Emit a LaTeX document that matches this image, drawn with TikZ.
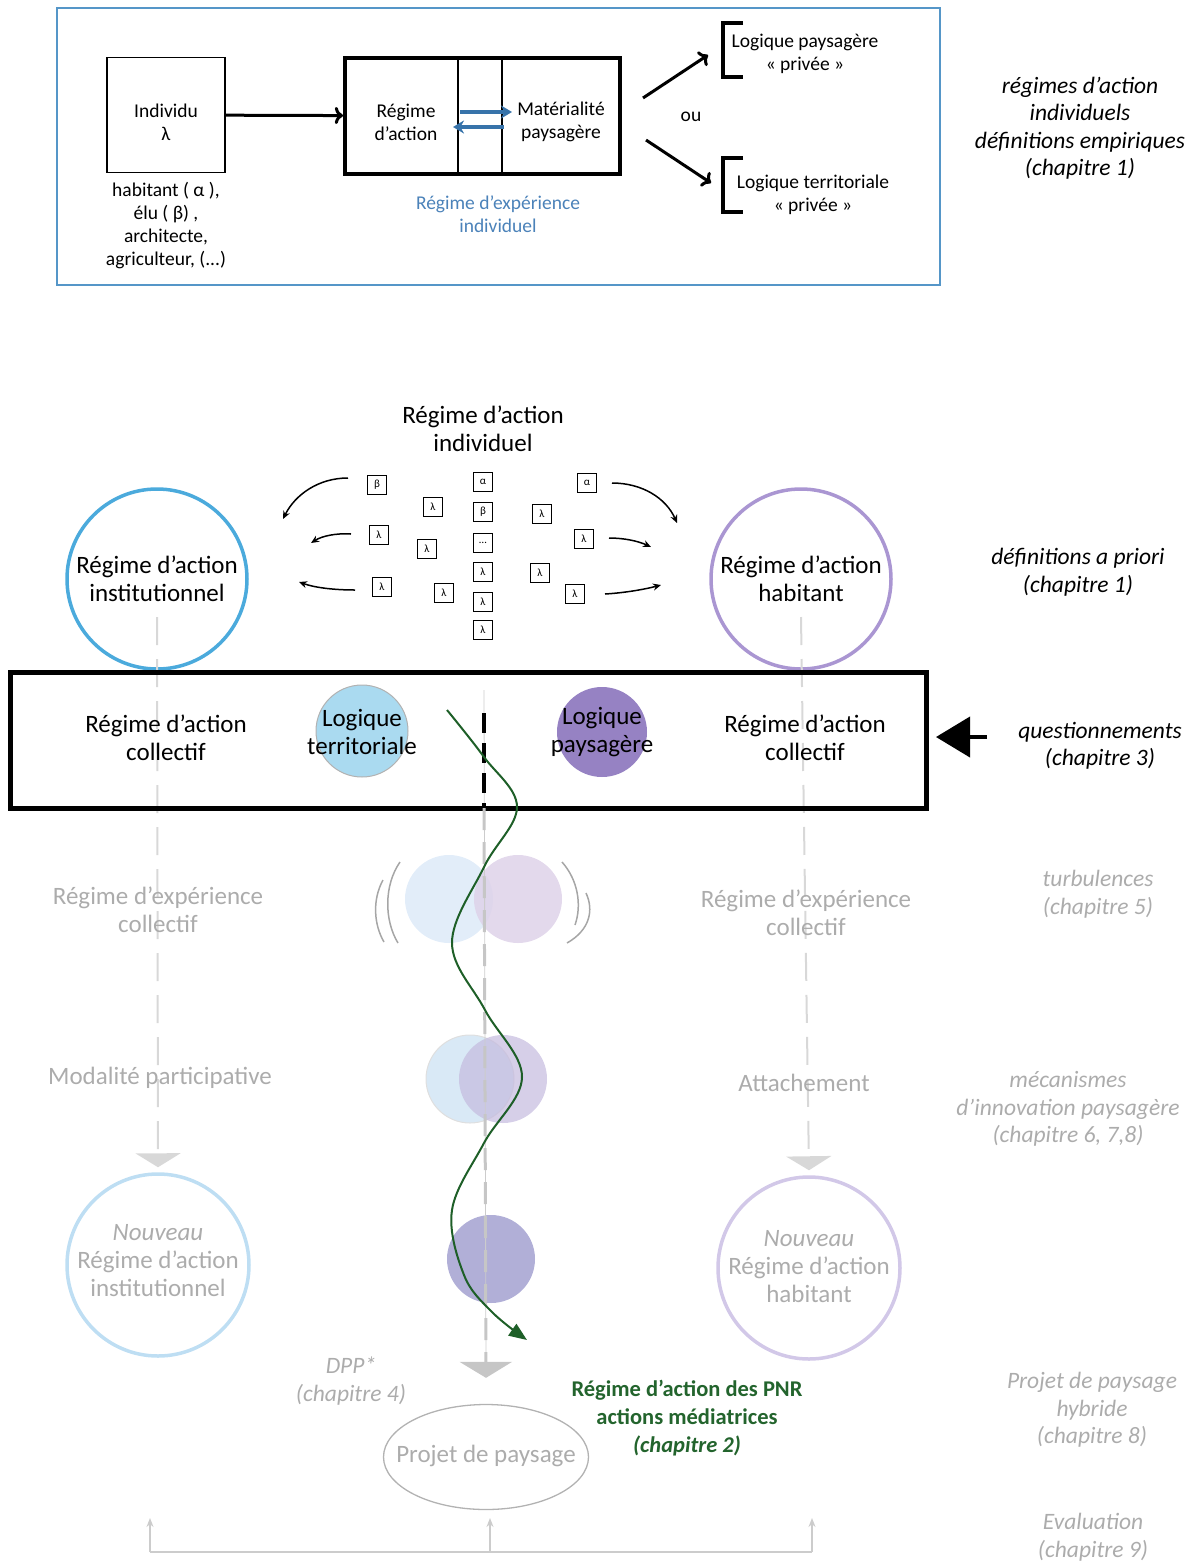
\documentclass[tikz,border=0pt]{standalone}
\usepackage{fontspec}
\setmainfont{Carlito}
\usetikzlibrary{positioning, shapes, calc, arrows, arrows.meta}

\definecolor{frameBlue}{RGB}{85,150,200}
\definecolor{expBlue}{RGB}{75,130,185}
\definecolor{arrowBlue}{RGB}{55,115,170}
\definecolor{instBlue}{RGB}{75,170,220}
\definecolor{habPurple}{RGB}{170,150,210}
\definecolor{terrFill}{RGB}{170,218,240}
\definecolor{paysFill}{RGB}{150,130,195}
\definecolor{turbBlue}{RGB}{226,237,249}
\definecolor{turbPurple}{RGB}{222,210,233}
\definecolor{modBlue}{RGB}{217,233,246}
\definecolor{modPurple}{RGB}{196,186,222}
\definecolor{lastBlob}{RGB}{177,175,215}
\definecolor{newBlue}{RGB}{190,222,243}
\definecolor{newPurple}{RGB}{210,200,232}
\definecolor{fadedText}{RGB}{172,172,172}
\definecolor{fadedLine}{RGB}{216,216,216}
\definecolor{curveGreen}{RGB}{30,95,40}
\definecolor{pnrGreen}{RGB}{35,100,45}

\tikzstyle{bigLabel}=[align=center, font=\fontsize{25}{28}\selectfont]
\tikzstyle{smallLabel}=[align=center, font=\fontsize{19.5}{23}\selectfont]
\tikzstyle{sideLabel}=[align=center, font=\fontsize{23.5}{27.5}\selectfont\itshape]
\tikzstyle{fadedLabel}=[bigLabel, text=fadedText]
\tikzstyle{fadedSide}=[sideLabel, text=fadedText]
\tikzstyle{lambdaBox}=[draw, line width=1.4pt, minimum size=19pt, inner sep=0pt, font=\fontsize{11}{11}\selectfont]
\tikzstyle{topArrow}=[->, line width=3pt]
\tikzstyle{blueArrow}=[-{Stealth[length=11pt,width=13pt]}, line width=4pt, arrowBlue]
\tikzstyle{swirl}=[-{Stealth[length=8pt,width=7pt]}, line width=1.5pt]
\tikzstyle{bracket}=[line width=3.5pt]
\tikzstyle{bigCircle}=[circle, line width=3.5pt, minimum size=180pt, inner sep=0pt]
\tikzstyle{blob}=[circle, minimum size=88pt, inner sep=0pt]
\tikzstyle{paren}=[line width=1.5pt, color=gray!70]
\tikzstyle{fadedFlow}=[fadedLine, line width=2pt, dash pattern=on 28pt off 14pt, -{Triangle[length=14pt,width=45pt]}]
\tikzstyle{centerFlow}=[color=gray!45, line width=3pt, dash pattern=on 22pt off 12pt, -{Triangle[length=16pt,width=52pt]}]
\tikzstyle{pnrCurve}=[curveGreen, line width=2pt, -{Triangle[length=18pt,width=14pt]}]
\tikzstyle{evalArrow}=[color=gray!40, line width=1.5pt, -{Stealth[length=9pt,width=7pt]}]

\begin{document}
\begin{tikzpicture}[x=1pt, y=-1pt]
    \useasboundingbox (0,0) rectangle (1198,1564);

    % individual regimes
    \node[draw=frameBlue, line width=2.5pt, minimum width=883pt, minimum height=277pt] (frame) at (498.5,146.5) {};

    \node[draw, line width=1.5pt, minimum width=118pt, minimum height=115pt] (indiv) at (166,115) {};
    \node[smallLabel] (indivText) at (166,122) {Individu\\λ};
    \node[smallLabel] (actors) at (166,226) {habitant ( α ),\\élu ( β) ,\\architecte,\\agriculteur, (...)};

    \node[draw, line width=4pt, minimum width=275pt, minimum height=116pt] (reg) at (482.5,116) {};
    \draw[line width=1.2pt] ([xshift=115pt]reg.north west) -- ([xshift=115pt]reg.south west);
    \draw[line width=1.2pt] ([xshift=159pt]reg.north west) -- ([xshift=159pt]reg.south west);
    \node[smallLabel] (regText) at (406,122) {Régime\\d’action};
    \node[smallLabel] (matText) at (561,122) {Matérialité\\paysagère};
    \coordinate (baR1) at (460,112);
    \coordinate (baR2) at (512,112);
    \coordinate (baL1) at (504,127);
    \coordinate (baL2) at (453,127);
    \draw[blueArrow] (baR1) -- (baR2);
    \draw[blueArrow] (baL1) -- (baL2);
    \node[smallLabel, text=expBlue] (expInd) at (498,214) {Régime d’expérience\\individuel};

    \draw[topArrow] (indiv) -- (reg);

    \coordinate (d1s) at (643,98);
    \coordinate (d1e) at (708,55);
    \coordinate (d2s) at (646,140);
    \coordinate (d2e) at (711,183);
    \draw[topArrow] (d1s) -- (d1e);
    \draw[topArrow] (d2s) -- (d2e);
    \node[smallLabel] (ou) at (691,117) {ou};

    \draw[bracket] (743,23) -- (723,23) -- (723,77) -- (743,77);
    \draw[bracket] (743,158) -- (723,158) -- (723,212) -- (743,212);
    \node[smallLabel] (logPriv) at (805,54) {Logique paysagère\\« privée »};
    \node[smallLabel] (terPriv) at (813,195) {Logique territoriale\\« privée »};

    \node[sideLabel] (def1) at (1080,128) {régimes d’action\\individuels\\définitions empiriques\\(chapitre 1)};

    % a priori regimes
    \node[bigLabel] (indTitle) at (483,429) {Régime d’action\\individuel};

    \node[bigCircle, draw=instBlue, font=\fontsize{25}{28}\selectfont, align=center] (inst) at (157,579) {Régime d’action\\institutionnel};
    \node[bigCircle, draw=habPurple, font=\fontsize{25}{28}\selectfont, align=center] (hab) at (801,579) {Régime d’action\\habitant};
    \node[sideLabel] (def2) at (1078,572) {définitions a priori\\(chapitre 1)};

    \node[lambdaBox] (lbC1) at (483,482) {α};
    \node[lambdaBox] (lbC2) at (483,512) {β};
    \node[lambdaBox] (lbC3) at (483,543) {…};
    \node[lambdaBox] (lbC4) at (483,572) {λ};
    \node[lambdaBox] (lbC5) at (483,602) {λ};
    \node[lambdaBox] (lbC6) at (483,630) {λ};

    \node[lambdaBox] (lbL1) at (377,485) {β};
    \node[lambdaBox] (lbL2) at (433,507) {λ};
    \node[lambdaBox] (lbL3) at (379,535) {λ};
    \node[lambdaBox] (lbL4) at (427,549) {λ};
    \node[lambdaBox] (lbL5) at (382,587) {λ};
    \node[lambdaBox] (lbL6) at (444,593) {λ};

    \node[lambdaBox] (lbR1) at (587,483) {α};
    \node[lambdaBox] (lbR2) at (542,514) {λ};
    \node[lambdaBox] (lbR3) at (584,539) {λ};
    \node[lambdaBox] (lbR4) at (540,573) {λ};
    \node[lambdaBox] (lbR5) at (575,594) {λ};

    \draw[swirl] (348,478) .. controls (318,478) and (295,495) .. (283,519);
    \draw[swirl] (351,534) .. controls (336,533) and (322,536) .. (311,543);
    \draw[swirl] (355,590) .. controls (336,590) and (316,588) .. (299,582);
    \draw[swirl] (612,483) .. controls (642,483) and (666,498) .. (677,523);
    \draw[swirl] (609,538) .. controls (624,538) and (638,541) .. (651,547);
    \draw[swirl] (605,594) .. controls (622,593) and (642,590) .. (661,585);

    % collective regimes
    \node[circle, draw=newBlue, line width=3.5pt, minimum size=182pt] (newInst) at (158,1265) {};
    \node[circle, draw=newPurple, line width=3.5pt, minimum size=182pt] (newHab) at (809,1268) {};

    \draw[fadedFlow] ([yshift=-38pt]inst.center) -- ([yshift=5pt]newInst.north);
    \draw[fadedFlow] ([yshift=-38pt]hab.center) -- ([yshift=5pt]newHab.north);

    \node[draw, line width=5pt, minimum width=916pt, minimum height=136pt] (band) at (468,740) {};
    \node[bigLabel] (collL) at (166,738) {Régime d’action\\collectif};
    \node[bigLabel] (collR) at (805,738) {Régime d’action\\collectif};
    \node[blob, fill=terrFill, draw=gray!60, line width=1pt, minimum width=92pt] (terr) at (362,731) {};
    \node[blob, fill=paysFill, minimum width=90pt] (pays) at (602,732) {};
    \node[bigLabel] (terrText) at (362,732) {Logique\\territoriale};
    \node[bigLabel] (paysText) at (602,732) {Logique\\paysagère};

    \coordinate (qStart) at (987,737);
    \draw[line width=4pt, -{Triangle[length=34pt,width=40pt]}] (qStart) -- (936,737);
    \node[sideLabel] (quest) at (1100,746) {questionnements\\(chapitre 3)};

    \node[blob, fill=turbBlue] (turbT) at (449,899) {};
    \node[blob, fill=turbPurple, fill opacity=0.85] (turbP) at (518,899) {};
    \draw[paren] (400,862) .. controls (384,885) and (384,920) .. (398,943);
    \draw[paren] (383,880) .. controls (372,900) and (374,925) .. (384,942);
    \draw[paren] (562,862) .. controls (578,880) and (582,905) .. (575,925);
    \draw[paren] (586,893) .. controls (594,910) and (590,930) .. (567,943);

    \node[fadedLabel] (expL) at (158,910) {Régime d’expérience\\collectif};
    \node[fadedLabel] (expR) at (806,913) {Régime d’expérience\\collectif};
    \node[fadedSide] (turb) at (1098,894) {turbulences\\(chapitre 5)};

    \node[blob, fill=modBlue, draw=gray!25, line width=1pt] (modT) at (470,1079) {};
    \node[blob, fill=modPurple, fill opacity=0.7] (modP) at (503,1079) {};
    \node[fadedLabel] (modal) at (160,1078) {Modalité participative};
    \node[fadedLabel] (attach) at (804,1083) {Attachement};
    \node[fadedSide] (meca) at (1068,1109) {mécanismes\\d’innovation paysagère\\(chapitre 6, 7,8)};

    \node[blob, fill=lastBlob] (last) at (491,1259) {};
    \node[fadedLabel] (newInstText) at (158,1261) {\textit{Nouveau}\\Régime d’action\\institutionnel};
    \node[fadedLabel] (newHabText) at (809,1267) {\textit{Nouveau}\\Régime d’action\\habitant};

    % landscape project
    \node[ellipse, draw=gray!60, line width=1.3pt, minimum width=205pt, minimum height=105pt, inner sep=0pt] (pp) at (486,1457) {};
    \node[fadedLabel] (ppText) at (486,1456) {Projet de paysage};
    \node[fadedSide] (dpp) at (351,1381) {DPP*\\(chapitre 4)};
    \node[align=center, text=pnrGreen, font=\fontsize{22.5}{28}\selectfont\bfseries] (pnr) at (687,1418) {Régime d’action des PNR\\actions médiatrices\\\textit{(chapitre 2)}};
    \node[fadedSide] (hybr) at (1092,1410) {Projet de paysage\\hybride\\(chapitre 8)};

    \coordinate (cTop) at (484,690);
    \coordinate (cDash) at (484,713);
    \coordinate (cBand) at (484,808);
    \draw[line width=0.8pt, gray!40] (cTop) -- ([yshift=28pt]pp.north);
    \draw[line width=3.5pt, dash pattern=on 20pt off 10pt] (cDash) -- (cBand);
    \draw[centerFlow] (cBand) -- ([yshift=26pt]pp.north);

    \draw[pnrCurve] plot[smooth, tension=0.6] coordinates {(447,710) (484,757) (517,807) (484,867) (452,943) (485,1010) (522,1077) (484,1143) (452,1210) (464,1275) (492,1312) (527,1340)};

    % evaluation
    \coordinate (evL) at (150,1552);
    \coordinate (evM) at (490,1552);
    \coordinate (evR) at (812,1552);
    \coordinate (evLt) at (150,1518);
    \coordinate (evMt) at (490,1518);
    \coordinate (evRt) at (812,1518);
    \draw[color=gray!40, line width=1.5pt] (evL) -- (evR);
    \draw[evalArrow] (evL) -- (evLt);
    \draw[evalArrow] (evM) -- (evMt);
    \draw[evalArrow] (evR) -- (evRt);
    \node[fadedSide] (eval) at (1093,1537) {Evaluation\\(chapitre 9)};

\end{tikzpicture}
\end{document}
